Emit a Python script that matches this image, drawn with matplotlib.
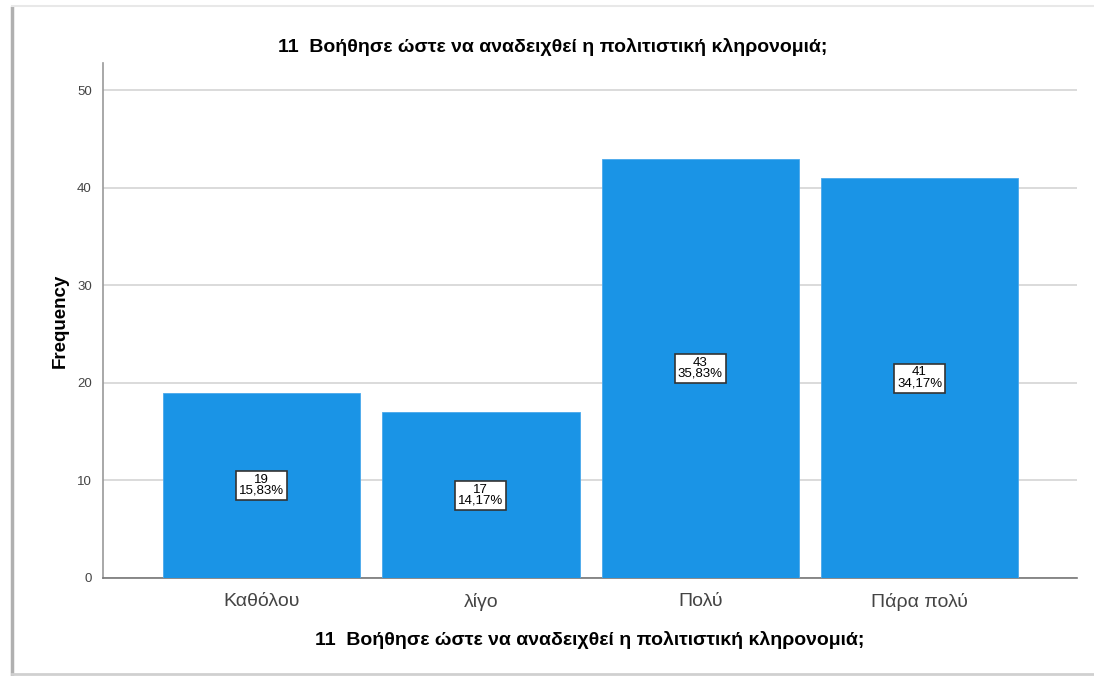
import matplotlib.pyplot as plt
from matplotlib.lines import Line2D

plt.rcParams['font.family'] = ['Liberation Sans', 'DejaVu Sans']

titlos = "11  Βοήθησε ώστε να αναδειχθεί η πολιτιστική κληρονομιά;"
kategories = ["Καθόλου", "λίγο", "Πολύ", "Πάρα πολύ"]
sixnotita = [19, 17, 43, 41]
pososta = ["15,83%", "14,17%", "35,83%", "34,17%"]
yticks = [0, 10, 20, 30, 40, 50]

fig = plt.figure(figsize=(10.94, 6.76), dpi=100)
ax = fig.add_axes([103/1094, 1 - 578/676, (1077-103)/1094, (578-63)/676])

x = range(len(kategories))
ax.bar(x, sixnotita, width=0.9, color='#1a94e6', edgecolor='#4aa8ec', linewidth=0.6, zorder=3)

for i in x:
    ax.text(i, sixnotita[i] / 2, f"{sixnotita[i]}\n{pososta[i]}", ha='center', va='center',
            fontsize=9.5, linespacing=0.9, zorder=4,
            bbox=dict(boxstyle='square,pad=0.22', fc='white', ec='#333333', lw=1.2))

ax.set_xlim(-0.723, 3.718)
ax.set_ylim(0, 52.8)
ax.set_yticks(yticks)
ax.set_xticks(list(x))
ax.set_xticklabels(kategories, fontsize=14, color='#444444')
ax.tick_params(axis='y', labelsize=9.5, colors='#444444', length=0, pad=8)
ax.tick_params(axis='x', length=0, pad=11)
ax.yaxis.grid(True, color='#d4d4d4', linewidth=1.2, zorder=0)
ax.set_axisbelow(True)
for s in ['top', 'right']:
    ax.spines[s].set_visible(False)
ax.spines['left'].set_color('#999999')
ax.spines['bottom'].set_color('#777777')
ax.spines['left'].set_linewidth(1.2)
ax.spines['bottom'].set_linewidth(1.2)

ax.set_ylabel("Frequency", fontsize=13.5, fontweight='bold', labelpad=6)
ax.set_xlabel(titlos, fontsize=14, fontweight='bold', labelpad=14)
fig.text(0.505, 1 - 47/676, titlos, ha='center', va='center', fontsize=14, fontweight='bold')

# πλαίσιο γύρω από το γράφημα
fig.add_artist(Line2D([12/1094, 12/1094], [0, 1 - 8/676], color='#b0b0b0', lw=2.5, transform=fig.transFigure))
fig.add_artist(Line2D([12/1094, 1], [1 - 6/676, 1 - 6/676], color='#e8e8e8', lw=1.5, transform=fig.transFigure))
fig.add_artist(Line2D([12/1094, 1], [2/676, 2/676], color='#d0d0d0', lw=2, transform=fig.transFigure))

fig.savefig("out.png", dpi=100)
